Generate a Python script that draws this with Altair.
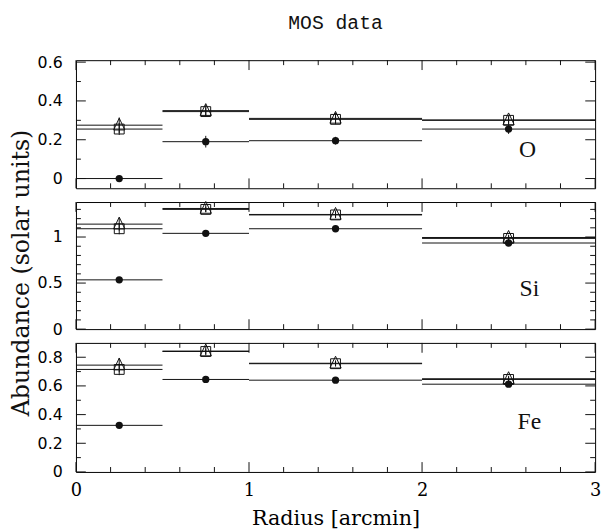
import altair as alt
import pandas as pd

# ---- data -------------------------------------------------------------
bin_lo = [0.0, 0.5, 1.0, 2.0]
bin_hi = [0.5, 1.0, 2.0, 3.0]
bin_mid = [0.25, 0.75, 1.5, 2.5]
series_names = ["circle", "square", "triangle"]

o_circle = [0.0, 0.19, 0.195, 0.255]
o_circle_err = [0.01, 0.03, 0.02, 0.025]
o_square = [0.255, 0.345, 0.305, 0.300]
o_square_err = [0.03, 0.02, 0.02, 0.02]
o_triangle = [0.275, 0.35, 0.31, 0.302]
o_triangle_err = [0.04, 0.03, 0.03, 0.02]

si_circle = [0.535, 1.04, 1.09, 0.935]
si_circle_err = [0.01, 0.02, 0.02, 0.02]
si_square = [1.09, 1.30, 1.24, 0.985]
si_square_err = [0.06, 0.03, 0.03, 0.03]
si_triangle = [1.14, 1.31, 1.245, 0.995]
si_triangle_err = [0.07, 0.04, 0.04, 0.03]

fe_circle = [0.325, 0.645, 0.64, 0.612]
fe_circle_err = [0.01, 0.01, 0.01, 0.01]
fe_square = [0.715, 0.84, 0.755, 0.645]
fe_square_err = [0.04, 0.02, 0.02, 0.02]
fe_triangle = [0.745, 0.843, 0.758, 0.65]
fe_triangle_err = [0.05, 0.03, 0.02, 0.02]

x_major = [0, 1, 2, 3]
x_minor = [0.2, 0.4, 0.6, 0.8, 1.2, 1.4, 1.6, 1.8, 2.2, 2.4, 2.6, 2.8]

o_y_major = [0, 0.2, 0.4, 0.6]
o_y_minor = [0.1, 0.3, 0.5]
si_y_major = [0, 0.5, 1.0]
si_y_minor = [0.1, 0.2, 0.3, 0.4, 0.6, 0.7, 0.8, 0.9, 1.1, 1.2, 1.3]
fe_y_major = [0, 0.2, 0.4, 0.6, 0.8]
fe_y_minor = [0.1, 0.3, 0.5, 0.7]

# ---- style ------------------------------------------------------------
W = 527
MAJOR = 10
MINOR = 5
INK = "#111111"
TRI = "M0,-1.25L1,0.85L-1,0.85Z"


def panel(label, label_x, label_y, vals, errs, domain, y_major, y_minor,
          height, show_x=False, top_title=False, y_title=False):
    rows = []
    for s, v, e in zip(series_names, vals, errs):
        for lo, hi, mid, vi, ei in zip(bin_lo, bin_hi, bin_mid, v, e):
            rows.append(dict(series=s, lo=lo, hi=hi, mid=mid, val=vi,
                             low=vi - ei, high=vi + ei))
    df = pd.DataFrame(rows)
    xs = alt.Scale(domain=[0, 3], nice=False, zero=False)
    ys = alt.Scale(domain=domain, nice=False, zero=False)
    if show_x:
        xaxis = alt.Axis(values=x_major, format="d", ticks=False, domain=False,
                         grid=False, labelFont="DejaVu Serif", labelFontSize=18,
                         labelColor="black", labelPadding=10, labelFlush=False,
                         labelOverlap=False,
                         title="Radius [arcmin]", titleFont="DejaVu Serif",
                         titleFontSize=21, titleFontWeight="normal",
                         titleColor="black", titlePadding=8)
    else:
        xaxis = None
    yaxis = alt.Axis(values=y_major, format="~g", ticks=False, domain=False,
                     grid=False, labelFont="DejaVu Sans", labelFontSize=16,
                     labelColor="black", labelPadding=14, labelOverlap=False,
                     title=None)

    def X(f):
        return alt.X(f, scale=xs, axis=xaxis)

    def Y(f):
        return alt.Y(f, scale=ys, axis=yaxis)

    base = alt.Chart(df)
    layers = [
        base.mark_rule(color=INK, strokeWidth=1).encode(
            x=X("lo:Q"), x2="hi:Q", y=Y("val:Q")),
        base.mark_rule(color=INK, strokeWidth=1).encode(
            x=X("mid:Q"), y=Y("low:Q"), y2="high:Q"),
        base.transform_filter(alt.datum.series == "square").mark_point(
            shape="square", filled=False, size=100, color=INK, strokeWidth=1,
            opacity=1).encode(x=X("mid:Q"), y=Y("val:Q")),
        base.transform_filter(alt.datum.series == "triangle").mark_point(
            shape=TRI, filled=False, size=130, color=INK, strokeWidth=1,
            opacity=1).encode(x=X("mid:Q"), y=Y("val:Q")),
        base.transform_filter(alt.datum.series == "circle").mark_point(
            shape="circle", filled=True, size=55, color=INK,
            opacity=1).encode(x=X("mid:Q"), y=Y("val:Q")),
    ]
    # inward tick marks on all four sides
    for vals_, ln in ((x_major, MAJOR), (x_minor, MINOR)):
        d = pd.DataFrame({"t": vals_})
        layers.append(alt.Chart(d).mark_rule(color=INK, strokeWidth=1).encode(
            x=X("t:Q"), y=alt.value(height), y2=alt.value(height - ln)))
        layers.append(alt.Chart(d).mark_rule(color=INK, strokeWidth=1).encode(
            x=X("t:Q"), y=alt.value(0), y2=alt.value(ln)))
    for vals_, ln in ((y_major, MAJOR), (y_minor, MINOR)):
        d = pd.DataFrame({"t": vals_})
        layers.append(alt.Chart(d).mark_rule(color=INK, strokeWidth=1).encode(
            y=Y("t:Q"), x=alt.value(0), x2=alt.value(ln)))
        layers.append(alt.Chart(d).mark_rule(color=INK, strokeWidth=1).encode(
            y=Y("t:Q"), x=alt.value(W), x2=alt.value(W - ln)))

    lab = pd.DataFrame({"x": [label_x], "y": [label_y], "text": [label]})
    layers.append(alt.Chart(lab).mark_text(
        font="Liberation Serif", fontSize=24, color=INK).encode(
        x=X("x:Q"), y=Y("y:Q"), text="text:N"))
    if top_title:
        t = pd.DataFrame({"text": ["MOS data"]})
        layers.append(alt.Chart(t).mark_text(
            font="Liberation Mono", fontSize=20, color=INK,
            baseline="alphabetic").encode(
            x=alt.value(W / 2), y=alt.value(-32), text="text:N"))
    if y_title:
        t = pd.DataFrame({"text": ["Abundance (solar units)"]})
        layers.append(alt.Chart(t).mark_text(
            font="DejaVu Serif", fontSize=24, color=INK, angle=270,
            baseline="middle", align="center").encode(
            x=alt.value(-55), y=alt.value(72), text="text:N"))
    return alt.layer(*layers).properties(width=W, height=height)


o_panel = panel("O", 2.61, 0.146, [o_circle, o_square, o_triangle],
                [o_circle_err, o_square_err, o_triangle_err],
                [-0.05, 0.61], o_y_major, o_y_minor, 130, top_title=True)
si_panel = panel("Si", 2.62, 0.43, [si_circle, si_square, si_triangle],
                 [si_circle_err, si_square_err, si_triangle_err],
                 [0, 1.38], si_y_major, si_y_minor, 129, y_title=True)
fe_panel = panel("Fe", 2.62, 0.35, [fe_circle, fe_square, fe_triangle],
                 [fe_circle_err, fe_square_err, fe_triangle_err],
                 [0, 0.9], fe_y_major, fe_y_minor, 131, show_x=True)

chart = alt.vconcat(o_panel, si_panel, fe_panel, spacing=14, bounds="flush").properties(
    padding={"left": 1, "top": 0, "right": 0, "bottom": 0}
).configure_view(stroke="black", strokeWidth=1)

chart.save("out.html", embed_options={"renderer": "svg", "actions": False})
